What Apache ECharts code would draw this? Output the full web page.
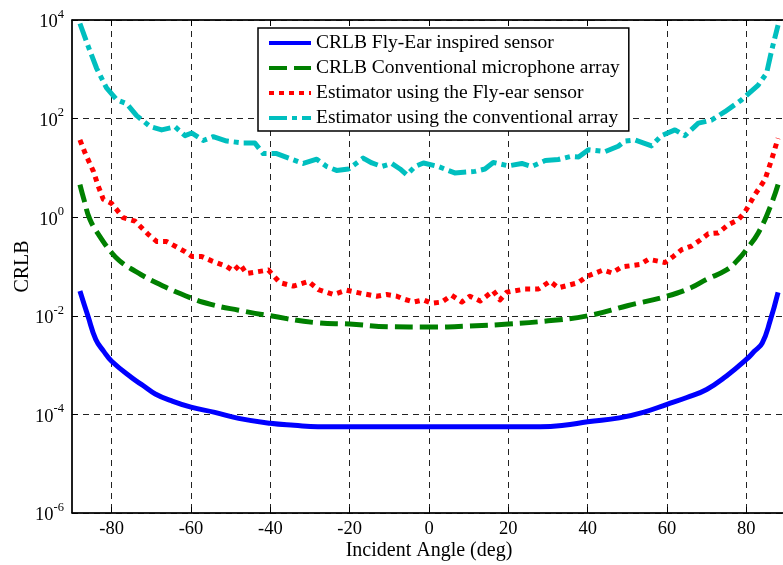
<!DOCTYPE html>
<html>
<head>
<meta charset="utf-8">
<script src="https://cdn.jsdelivr.net/npm/echarts@6/dist/echarts.min.js"></script>
<style>
html,body{margin:0;padding:0;background:#fff;}
#chart{width:783px;height:565px;}
</style>
</head>
<body>
<div id="chart"></div>
<script>
// ---- data ----
const xTicks = [-80, -60, -40, -20, 0, 20, 40, 60, 80];
const yTickExps = [-6, -4, -2, 0, 2, 4];

const seriesNames = [
  'CRLB Fly-Ear inspired sensor',
  'CRLB Conventional microphone array',
  'Estimator using the Fly-ear sensor',
  'Estimator using the conventional array'
];

const flyCrlbAngles = [-88,-86,-84,-82,-80,-75,-72,-69,-65,-60,-54,-48,-40,-34,-28,0,28,34,40,48,54,60,65,70,75,80,82,84,86,88];
const flyCrlbValues = [3.2e-2,1.0e-2,3.3e-3,1.9e-3,1.2e-3,5.6e-4,3.8e-4,2.6e-4,1.9e-4,1.4e-4,1.1e-4,8.3e-5,6.6e-5,6.0e-5,5.6e-5,5.6e-5,5.6e-5,6.0e-5,7.1e-5,8.5e-5,1.1e-4,1.6e-4,2.2e-4,3.2e-4,6.0e-4,1.3e-3,1.9e-3,2.8e-3,7.9e-3,3.0e-2];

const convCrlbAngles = [-88,-87,-85.5,-83,-80,-78,-75,-69,-60,-55,-48,-40,-28,-20,-10,0,10,20,30,40,50,60,66,70,75,78,80,83,86,88];
const convCrlbValues = [4.6,2.3,0.91,0.41,0.19,0.13,0.089,0.048,0.023,0.017,0.013,0.010,0.0072,0.0068,0.0060,0.0059,0.0062,0.0068,0.0079,0.010,0.016,0.025,0.037,0.055,0.085,0.14,0.22,0.48,1.6,4.6];

const flyEstAngles = [-88,-86.7,-84.6,-83.4,-82.1,-80,-77.1,-74.1,-70.8,-68.6,-66.1,-61.5,-59.8,-57.3,-54.8,-51,-49.3,-47.6,-46,-40.5,-37.6,-34.2,-30.4,-27.9,-24.1,-20.8,-16.6,-13.2,-10.7,-8.1,-6.5,-3.9,-1.4,0.7,3.2,5.7,8.3,10.3,12.9,16.2,17.9,19.6,24.2,27.6,30.5,32.6,37.6,39.8,43.9,46.1,48.6,53.2,55.3,57.4,59.5,61.6,63.7,66.2,68.3,70.4,72.9,75.5,78,79.7,80.9,82.2,84.7,86.4,88];
const flyEstValues = [37,20,8.5,4.3,2.3,1.9,0.98,0.83,0.45,0.32,0.32,0.20,0.16,0.16,0.13,0.10,0.081,0.11,0.072,0.085,0.047,0.040,0.050,0.034,0.027,0.033,0.028,0.025,0.027,0.025,0.022,0.019,0.021,0.018,0.019,0.026,0.019,0.025,0.020,0.032,0.021,0.030,0.035,0.035,0.050,0.037,0.047,0.063,0.085,0.074,0.098,0.11,0.14,0.13,0.12,0.16,0.22,0.26,0.34,0.46,0.48,0.71,0.89,1.3,1.9,2.9,5.8,15,40];

const convEstAngles = [-88,-85.9,-83.8,-81.3,-78.7,-76.2,-73.7,-70.3,-67.4,-64,-61.5,-59.8,-56.9,-54.4,-51,-46.8,-43.9,-41.8,-38.4,-34.6,-31.7,-28.3,-25.8,-23.3,-20.3,-16.6,-14.4,-11.9,-9.4,-7.3,-5.6,-3.5,-1.4,2.3,6.5,11.6,14.1,16.2,20,23.4,25.9,29.3,32.6,35.6,37.7,40.2,44.4,47.7,49.4,51.9,56.1,58.6,62,64.5,67.9,71.2,74.6,78.8,83,85.1,86.4,88];
const convEstValues = [8500,2900,1050,420,240,200,115,69,59,68,45,51,36,43,35,32,32,19.5,19.5,15,12.3,15,10.7,8.9,9.5,15.8,12.6,10.7,12.3,9.5,7.2,10.7,12.6,10.7,7.9,8.5,9.5,12.9,11,12.3,10.7,14.1,14.8,17,16.6,23.4,21.4,27.5,35,37,28,45,59,45,81,93,138,240,480,830,2450,7900];

// ---- chart ----
const FONT = 'Liberation Serif';
const pairs = (xs, ys) => xs.map((x, i) => [x, Math.log10(ys[i])]);

const chart = echarts.init(document.getElementById('chart'), null, {renderer: 'canvas'});

const gridDash = [6, 5];
const baseLine = (name, xs, ys, color, type, smooth) => ({
  name: name,
  type: 'line',
  data: pairs(xs, ys),
  symbol: 'none',
  showSymbol: false,
  smooth: smooth,
  lineStyle: {color: color, width: 5, type: type, cap: 'butt', join: 'round'},
  itemStyle: {color: color},
  emphasis: {disabled: true},
  animation: false
});

chart.setOption({
  backgroundColor: '#fff',
  animation: false,
  grid: {left: 72, top: 20, width: 714, height: 493, containLabel: false, outerBoundsMode: 'none',
         show: true, borderColor: '#000', borderWidth: 1, backgroundColor: 'transparent'},
  legend: {
    orient: 'vertical',
    left: 258,
    top: 28,
    itemWidth: 42,
    itemHeight: 14,
    itemGap: 5,
    padding: [5, 9, 3, 9],
    backgroundColor: '#fff',
    borderColor: '#000',
    borderWidth: 1.5,
    lineStyle: {width: 4},
    itemStyle: {opacity: 0},
    selectedMode: false,
    textStyle: {fontFamily: FONT, fontSize: 19.5, color: '#000'},
    data: seriesNames
  },
  xAxis: [{
    type: 'value',
    min: -90,
    max: 90,
    position: 'bottom',
    name: 'Incident Angle (deg)',
    nameLocation: 'middle',
    nameGap: 28,
    nameMoveOverlap: false,
    nameTextStyle: {fontFamily: FONT, fontSize: 20, color: '#000'},
    axisLine: {show: true, onZero: false, lineStyle: {color: '#000', width: 1.5}},
    axisTick: {show: true, inside: true, length: 6, customValues: xTicks, lineStyle: {color: '#000', width: 1}},
    axisLabel: {show: true, customValues: xTicks, margin: 7, fontFamily: FONT, fontSize: 18.5, color: '#000'},
    splitLine: {show: true, lineStyle: {color: '#222', width: 1, type: gridDash}}
  }, {
    type: 'value',
    min: -90,
    max: 90,
    position: 'top',
    axisLine: {show: true, onZero: false, lineStyle: {color: '#000', width: 1.5}},
    axisTick: {show: true, inside: true, length: 6, customValues: xTicks, lineStyle: {color: '#000', width: 1}},
    axisLabel: {show: false},
    splitLine: {show: false}
  }],
  yAxis: {
    type: 'value',
    min: -6,
    max: 4,
    interval: 2,
    name: 'CRLB',
    nameLocation: 'middle',
    nameRotate: 90,
    nameGap: 39,
    nameMoveOverlap: false,
    nameTextStyle: {fontFamily: FONT, fontSize: 20, color: '#000'},
    axisLine: {show: true, onZero: false, lineStyle: {color: '#000', width: 1.5}},
    axisTick: {show: true, inside: true, length: 6, lineStyle: {color: '#000', width: 1}},
    axisLabel: {
      margin: 8,
      formatter: v => '{b|10}{s|' + v + '}',
      rich: {
        b: {fontFamily: FONT, fontSize: 18.5, color: '#000', verticalAlign: 'bottom'},
        s: {fontFamily: FONT, fontSize: 12.5, color: '#000', verticalAlign: 'bottom', padding: [0, 0, 11, 0]}
      }
    },
    splitLine: {show: true, lineStyle: {color: '#222', width: 1, type: gridDash}}
  },
  series: [
    baseLine(seriesNames[0], flyCrlbAngles, flyCrlbValues, '#0000FF', 'solid', 0.45),
    baseLine(seriesNames[1], convCrlbAngles, convCrlbValues, '#008000', [18, 7], 0.45),
    baseLine(seriesNames[2], flyEstAngles, flyEstValues, '#FF0000', [5, 5], false),
    baseLine(seriesNames[3], convEstAngles, convEstValues, '#00BFBF', [18, 5, 5, 5], false)
  ]
});
</script>
</body>
</html>
